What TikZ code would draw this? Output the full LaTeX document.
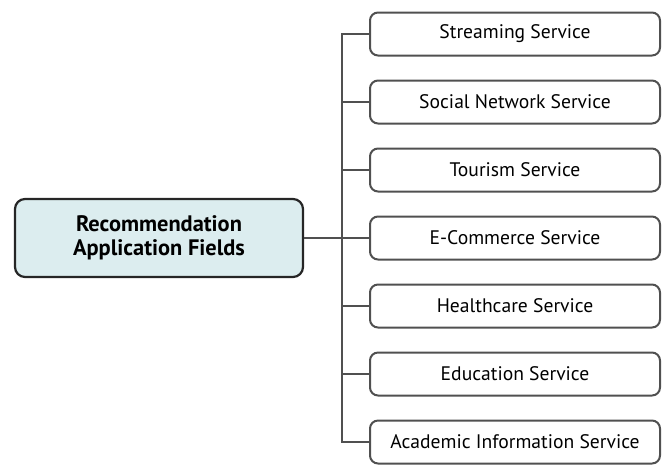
\documentclass[tikz,border=0pt]{standalone}
\usepackage{fontspec}
\setmainfont{PT Sans}
\usepackage{xcolor}
\usetikzlibrary{positioning}
\definecolor{rootfill}{HTML}{DCEDEF}
\definecolor{edgegray}{HTML}{505050}
\tikzset{
  rootnode/.style={rectangle,rounded corners=5pt,draw=black!85,line width=1.1pt,fill=rootfill,
    minimum width=144pt,minimum height=39pt,align=center,font=\fontsize{11.2}{12.2}\selectfont\bfseries},
  fieldnode/.style={rectangle,rounded corners=4pt,draw=edgegray,line width=1pt,fill=white,
    minimum width=145pt,minimum height=21.5pt,font=\fontsize{9.8}{11}\selectfont},
  branch/.style={draw=edgegray,line width=1pt},
}
\begin{document}
\begin{tikzpicture}[x=0.5pt,y=-0.5pt]
  \useasboundingbox (0,0) rectangle (662,473);
  \node[rootnode] (nRoot) at (159,238) {Recommendation\\Application Fields};
  \coordinate (jn) at (342,238);
  \foreach \lab [count=\i] in {Streaming Service,Social Network Service,Tourism Service,
      E-Commerce Service,Healthcare Service,Education Service,Academic Information Service}{
    \node[fieldnode] (f\i) at (515,{34+68*(\i-1)}) {\lab};
    \draw[branch] (jn) |- (f\i.west);
  }
  \draw[branch] (nRoot.east) -- (jn);
\end{tikzpicture}
\end{document}
